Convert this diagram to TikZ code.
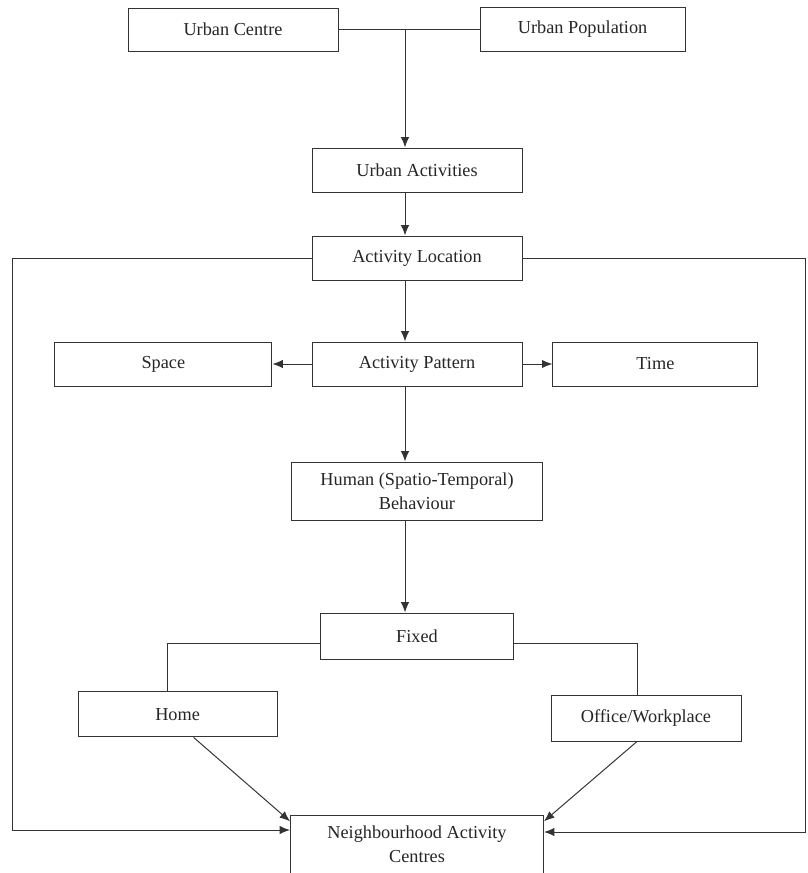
\documentclass[tikz,border=0pt]{standalone}
\usepackage{fontspec}
\setmainfont{Liberation Serif}
\usepackage{xcolor}
\usepackage{tikz}
\usetikzlibrary{shapes,arrows,arrows.meta,positioning}

\begin{document}
\begin{tikzpicture}[node distance=2.2cm, auto]
        \tikzstyle{block} = [rectangle, draw=black!80, line width=0.7pt, fill=white,
            align=center, font=\fontsize{13}{17}\selectfont, text=black!85,
            minimum width=5.25cm, minimum height=1.1cm, inner sep=2pt]
        \tikzstyle{line} = [draw=black!80, line width=0.7pt, -{Latex[length=2.6mm,width=2.1mm]}]
        \tikzstyle{link} = [draw=black!80, line width=0.7pt]

        \useasboundingbox (0,0) rectangle (20.175,-21.825);

        \node [block, minimum height=1.075cm] (centre) at (5.825,-0.74) {Urban Centre};
        \node [block, right of=centre, node distance=8.74cm, minimum width=5.125cm] (population) {Urban Population};
        \node [block] (activities) at (10.425,-4.25) {Urban Activities};
        \node [block, below of=activities] (location) {Activity Location};
        \node [block, below of=location, node distance=2.65cm] (pattern) {Activity Pattern};
        \node [block, left of=pattern, node distance=6.34cm, minimum width=5.425cm] (space) {Space};
        \node [block, right of=pattern, node distance=5.96cm, minimum width=5.125cm] (time) {Time};
        \node [block, below of=pattern, node distance=3.175cm, minimum width=6.275cm, minimum height=1.45cm] (behaviour) {Human (Spatio-Temporal)\\Behaviour};
        \node [block, below of=behaviour, node distance=3.625cm, minimum width=4.825cm, minimum height=1.15cm] (fixed) {Fixed};
        \node [block, minimum width=4.975cm, minimum height=1.125cm] (home) at (4.44,-17.86) {Home};
        \node [block, minimum width=4.75cm, minimum height=1.15cm] (office) at (16.15,-17.95) {Office/Workplace};
        \node [block, below of=fixed, node distance=5.2cm, minimum width=6.325cm, minimum height=1.45cm] (centres) {Neighbourhood Activity\\Centres};

        \coordinate (join) at (10.125,-0.75);
        \coordinate (leftloop) at (0.3,-20.75);
        \coordinate (rightloop) at (20.125,-20.8);

        \path [link] (centre) -- (population);
        \path [line] (join) -- (activities.north -| join);
        \path [line] (activities.south -| join) -- (location.north -| join);
        \path [line] (location.south -| join) -- (pattern.north -| join);
        \path [line] (pattern) -- (space);
        \path [line] (pattern) -- (time);
        \path [line] (pattern.south -| join) -- (behaviour.north -| join);
        \path [line] (behaviour.south -| join) -- (fixed.north -| join);
        \path [link] ([yshift=-0.175cm]fixed.west) -| ([xshift=-0.26cm]home.north);
        \path [link] ([yshift=-0.175cm]fixed.east) -| ([xshift=-0.225cm]office.north);
        \path [line] ([xshift=0.4cm]home.south) -- ([yshift=-0.17cm]centres.north west);
        \path [line] ([xshift=-0.225cm]office.south) -- ([yshift=-0.17cm]centres.north east);
        \path [line] (location.west) -| (leftloop) -- (leftloop -| centres.west);
        \path [line] (location.east) -| (rightloop) -- (rightloop -| centres.east);
      \end{tikzpicture}
\end{document}
